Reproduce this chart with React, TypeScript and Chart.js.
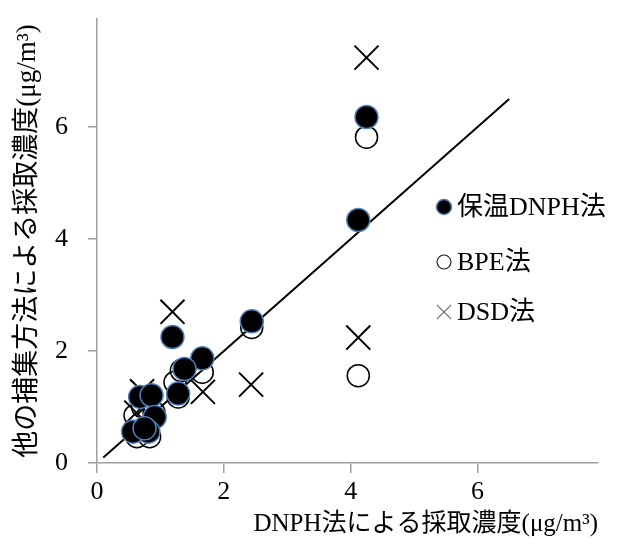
import React, { useEffect, useRef } from "react";
import { Chart, registerables } from "chart.js";

Chart.register(...registerables);

// 保温DNPH法 (filled circles)
const hotX = [4.25, 4.12, 2.44, 1.19, 1.66, 1.38, 1.28, 0.68, 0.86, 0.91, 0.81, 0.57, 0.75];
const hotY = [6.18, 4.34, 2.53, 2.25, 1.87, 1.68, 1.24, 1.18, 1.21, 0.82, 0.56, 0.56, 0.62];
// BPE法 (open circles)
const bpeX = [4.25, 4.12, 2.44, 1.66, 1.33, 1.23, 1.28, 0.60, 0.63, 0.83, 0.90, 0.72];
const bpeY = [5.82, 1.56, 2.42, 1.62, 1.65, 1.44, 1.18, 0.85, 0.47, 0.47, 0.90, 1.00];
// DSD法 (crosses)
const dsdX = [4.25, 4.12, 2.43, 1.19, 1.67, 0.71, 0.80, 0.62];
const dsdY = [7.24, 2.24, 1.40, 2.70, 1.27, 1.28, 1.05, 0.90];
// 1:1 line
const lineX = [0.1, 6.5];
const lineY = [0.1, 6.5];

const seriesLabels = ["保温DNPH法", "BPE法", "DSD法"];
const xTicks = [0, 2, 4, 6];
const yTicks = [0, 2, 4, 6];
const xTitle = "DNPH法による採取濃度(μg/m³)";
const yTitle = "他の捕集方法による採取濃度(μg/m³)";

const SERIF = "'Liberation Serif', 'Noto Sans CJK JP', serif";

const zip = (xs: number[], ys: number[]) => xs.map((x, i) => ({ x, y: ys[i] }));

const legendPlugin = {
  id: "customLegend",
  afterDraw(chart: any) {
    const ctx = chart.ctx;
    const ca = chart.chartArea;
    const mx = ca.left + 347;
    const tx = ca.left + 360;
    const rows = [ca.top + 188, ca.top + 243, ca.top + 293];
    ctx.save();
    ctx.beginPath();
    ctx.arc(mx, rows[0], 7.5, 0, Math.PI * 2);
    ctx.fillStyle = "#000";
    ctx.fill();
    ctx.lineWidth = 1.5;
    ctx.strokeStyle = "#4f81bd";
    ctx.stroke();
    ctx.beginPath();
    ctx.arc(mx, rows[1], 7, 0, Math.PI * 2);
    ctx.lineWidth = 1.2;
    ctx.strokeStyle = "#222";
    ctx.stroke();
    ctx.beginPath();
    ctx.moveTo(mx - 7, rows[2] - 7);
    ctx.lineTo(mx + 7, rows[2] + 7);
    ctx.moveTo(mx + 7, rows[2] - 7);
    ctx.lineTo(mx - 7, rows[2] + 7);
    ctx.lineWidth = 1.2;
    ctx.strokeStyle = "#777";
    ctx.stroke();
    ctx.fillStyle = "#000";
    ctx.font = `26px ${SERIF}`;
    ctx.textBaseline = "middle";
    ctx.textAlign = "left";
    seriesLabels.forEach((t, i) => ctx.fillText(t, tx, rows[i] + 1));
    ctx.restore();
  },
};

export default function App() {
  const ref = useRef<HTMLCanvasElement | null>(null);
  useEffect(() => {
    if (!ref.current) return;
    const axisColor = "#a0a0a0";
    const chart = new Chart(ref.current, {
      type: "scatter",
      data: {
        datasets: [
          {
            label: seriesLabels[0],
            data: zip(hotX, hotY),
            pointStyle: "circle",
            pointRadius: 11.5,
            backgroundColor: "#000",
            borderColor: "#4f81bd",
            borderWidth: 1.5,
          },
          {
            label: seriesLabels[1],
            data: zip(bpeX, bpeY),
            pointStyle: "circle",
            pointRadius: 11,
            backgroundColor: "rgba(0,0,0,0)",
            borderColor: "#000",
            borderWidth: 1.5,
          },
          {
            label: seriesLabels[2],
            data: zip(dsdX, dsdY),
            pointStyle: "crossRot",
            pointRadius: 17,
            backgroundColor: "#000",
            borderColor: "#000",
            borderWidth: 2,
          },
          {
            label: "1:1",
            data: zip(lineX, lineY),
            showLine: true,
            pointRadius: 0,
            borderColor: "#000",
            borderWidth: 2,
          },
        ],
      },
      options: {
        responsive: false,
        animation: false,
        layout: { padding: { left: 0, top: 16, right: 16, bottom: 0 } },
        plugins: { legend: { display: false }, tooltip: { enabled: false } },
        scales: {
          x: {
            type: "linear",
            min: 0,
            max: 7.9,
            afterBuildTicks: (s: any) => {
              s.ticks = xTicks.map((v) => ({ value: v }));
            },
            afterFit: (s: any) => {
              s.height = 85;
              s.paddingLeft = 0;
              s.paddingRight = 0;
            },
            grid: { display: true, drawOnChartArea: false, drawTicks: true, tickLength: 10, color: axisColor, lineWidth: 1.5 },
            border: { display: true, color: axisColor, width: 1.5 },
            ticks: { color: "#000", font: { family: SERIF, size: 26 }, padding: 4, maxRotation: 0 },
            title: {
              display: true,
              text: xTitle,
              align: "end",
              color: "#000",
              font: { family: SERIF, size: 25 },
              padding: { top: 0, bottom: 9 },
            },
          },
          y: {
            type: "linear",
            min: 0,
            max: 7.93,
            afterBuildTicks: (s: any) => {
              s.ticks = yTicks.map((v) => ({ value: v }));
            },
            afterFit: (s: any) => {
              s.width = 97;
              s.paddingTop = 0;
              s.paddingBottom = 0;
            },
            grid: { display: true, drawOnChartArea: false, drawTicks: true, tickLength: 9, color: axisColor, lineWidth: 1.5 },
            border: { display: true, color: axisColor, width: 1.5 },
            ticks: { color: "#000", font: { family: SERIF, size: 26 }, padding: 20 },
            title: {
              display: true,
              text: yTitle,
              color: "#000",
              font: { family: SERIF, size: 27 },
              padding: { top: 12, bottom: 0 },
            },
          },
        },
      },
      plugins: [legendPlugin],
    } as any);
    return () => chart.destroy();
  }, []);
  return (
    <div style={{ position: "fixed", left: 0, top: 0, width: 617, height: 548, background: "#fff" }}>
      <canvas ref={ref} width={617} height={548} style={{ display: "block" }} />
    </div>
  );
}
